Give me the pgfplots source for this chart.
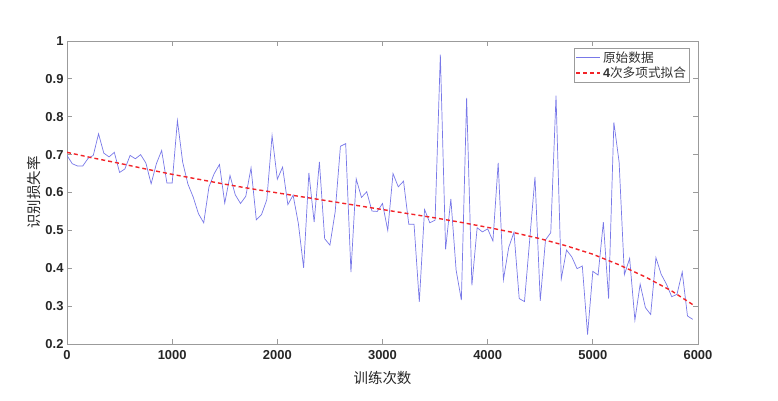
\documentclass[border=0pt]{standalone}
\usepackage{pgfplots}
\pgfplotsset{compat=1.18}
\usepackage{fontspec}
\setmainfont{Liberation Sans}
\newfontfamily\cjk{Noto Sans CJK SC}

\definecolor{rawblue}{RGB}{120,120,232}
\definecolor{fitred}{RGB}{242,35,40}
\definecolor{boxgray}{RGB}{155,155,155}

% recognition loss recorded every 50 training steps
\pgfplotstableread{
x y
0 0.698
50 0.676
100 0.670
150 0.670
200 0.690
250 0.698
300 0.755
350 0.704
400 0.694
450 0.706
500 0.653
550 0.662
600 0.698
650 0.689
700 0.700
750 0.678
800 0.623
850 0.676
900 0.711
950 0.625
1000 0.625
1050 0.790
1100 0.680
1150 0.622
1200 0.588
1250 0.544
1300 0.520
1350 0.615
1400 0.650
1450 0.674
1500 0.572
1550 0.645
1600 0.594
1650 0.571
1700 0.590
1750 0.665
1800 0.528
1850 0.542
1900 0.581
1950 0.750
2000 0.635
2050 0.667
2100 0.568
2150 0.593
2200 0.518
2250 0.401
2300 0.652
2350 0.522
2400 0.681
2450 0.478
2500 0.461
2550 0.549
2600 0.722
2650 0.729
2700 0.390
2750 0.636
2800 0.587
2850 0.602
2900 0.551
2950 0.550
3000 0.571
3050 0.500
3100 0.650
3150 0.615
3200 0.630
3250 0.516
3300 0.516
3350 0.311
3400 0.555
3450 0.520
3500 0.527
3550 0.964
3600 0.450
3650 0.583
3700 0.395
3750 0.316
3800 0.850
3850 0.355
3900 0.507
3950 0.496
4000 0.504
4050 0.472
4100 0.678
4150 0.370
4200 0.455
4250 0.495
4300 0.320
4350 0.312
4400 0.476
4450 0.641
4500 0.314
4550 0.475
4600 0.494
4650 0.856
4700 0.372
4750 0.448
4800 0.430
4850 0.399
4900 0.406
4950 0.225
5000 0.392
5050 0.382
5100 0.522
5150 0.320
5200 0.785
5250 0.680
5300 0.383
5350 0.426
5400 0.263
5450 0.358
5500 0.296
5550 0.278
5600 0.428
5650 0.384
5700 0.358
5750 0.325
5800 0.331
5850 0.390
5900 0.274
5950 0.265
}\rawdata

% 4th-order polynomial fit, tabulated
\pgfplotstableread{
x y
0 0.706
250 0.691
500 0.677
750 0.662
1000 0.648
1250 0.635
1500 0.622
1750 0.610
2000 0.599
2250 0.588
2500 0.577
2750 0.566
3000 0.555
3250 0.544
3500 0.533
3750 0.521
4000 0.508
4250 0.494
4500 0.478
4750 0.459
5000 0.437
5250 0.409
5500 0.377
5750 0.340
5950 0.304
}\fitdata

\begin{document}
\begin{tikzpicture}[x=1bp,y=1bp]
\useasboundingbox (-67bp,-57bp) rectangle (711bp,344bp);
\begin{axis}[
  at={(0,0)}, anchor=south west,
  width=631bp, height=303bp, scale only axis,
  xmin=0, xmax=6000, ymin=0.2, ymax=1,
  xtick={0,1000,2000,3000,4000,5000,6000},
  ytick={0.2,0.3,0.4,0.5,0.6,0.7,0.8,0.9,1},
  scaled x ticks=false,
  tick align=inside, major tick length=5bp,
  axis line style={boxgray, line width=0.8bp},
  tick style={boxgray, line width=0.8bp},
  /pgf/number format/assume math mode=true,
  /pgf/number format/1000 sep={},
  ticklabel style={font=\fontsize{13}{15}\selectfont\bfseries, text=black!85},
  xticklabel style={yshift=-3bp},
  xlabel={\cjk 训练次数},
  ylabel={\cjk 识别损失率},
  label style={font=\fontsize{14.5}{16}\selectfont, text=black!85},
  xlabel style={yshift=-5bp},
  ylabel style={yshift=-2bp},
  legend style={draw=boxgray, line width=0.6bp, font=\fontsize{12.7}{14}\selectfont,
    at={(0.987,0.977)}, anchor=north east, inner sep=1.5bp, row sep=-1bp,
    text=black!80},
  legend cell align=left,
  legend image code/.code={\draw[#1] (0bp,0bp) -- (24bp,0bp);},
]
\addplot[rawblue, line width=0.7bp] table[x=x, y=y] {\rawdata};
\addlegendentry{\cjk 原始数据}
\addplot[fitred, line width=1.4bp, dash pattern=on 4bp off 3bp] table[x=x, y=y] {\fitdata};
\addlegendentry{{\bfseries 4}\cjk 次多项式拟合}
\end{axis}
\end{tikzpicture}
\end{document}
